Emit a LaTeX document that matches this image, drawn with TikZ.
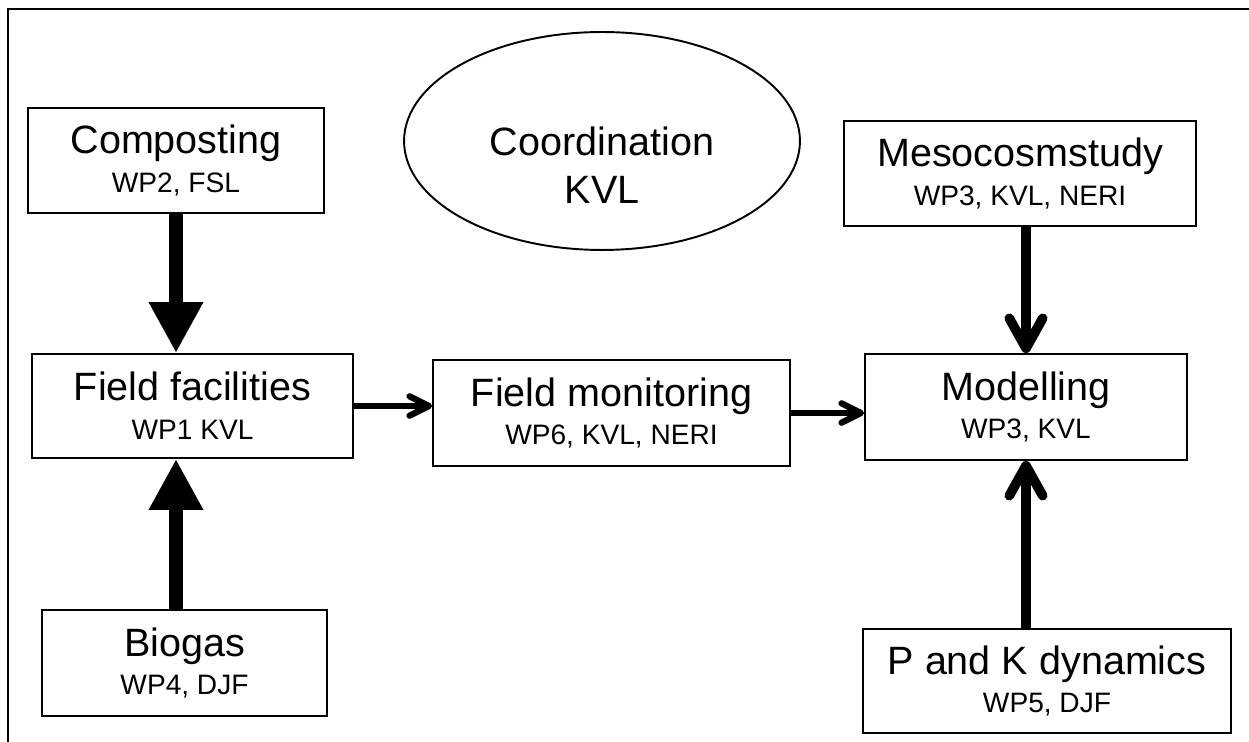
\documentclass[tikz,border=0pt]{standalone}
\usepackage{fontspec}
\setmainfont{Liberation Sans}
\usetikzlibrary{arrows.meta,shapes.geometric}

\tikzset{
  wpbox/.style={draw, line width=1.1pt, rectangle, inner sep=0pt, align=center, font=\fontsize{22.5}{22}\selectfont,
    execute at begin node={\rule{0pt}{21pt}}},
  fatarrow/.style={line width=8.5pt, -{Triangle[length=29pt,width=29pt]}},
  openarrow/.style={line width=5.5pt, -{Straight Barb[length=17pt,width=19pt,round]}},
  thinarrow/.style={line width=3.6pt, -{Straight Barb[length=11pt,width=11pt,round]}}
}
\newcommand{\wpline}[1]{{\fontsize{16}{22}\selectfont #1}}

\begin{document}
\begin{tikzpicture}[x=0.02cm,y=-0.02cm]
\useasboundingbox (0,0) rectangle (1249,742);
\draw[line width=1.1pt] (1249,9) -- (8,9) -- (8,742);

\node[wpbox, minimum width=5.92cm, minimum height=2.10cm] (comp) at (176,160.5) {Composting\\\wpline{WP2, FSL}};
\node[wpbox, minimum width=6.42cm, minimum height=2.08cm] (fac) at (192.5,406) {Field facilities\\\wpline{WP1 KVL}};
\node[wpbox, minimum width=5.70cm, minimum height=2.12cm] (bio) at (184.5,663) {Biogas\\\wpline{WP4, DJF}};
\node[wpbox, minimum width=7.14cm, minimum height=2.12cm] (mon) at (611.5,413) {Field monitoring\\\wpline{WP6, KVL, NERI}};
\node[wpbox, minimum width=6.44cm, minimum height=2.12cm] (mod) at (1026,407) {Modelling\\\wpline{WP3, KVL}};
\node[wpbox, minimum width=7.04cm, minimum height=2.10cm] (meso) at (1020,173.5) {Mesocosmstudy\\\wpline{WP3, KVL, NERI}};
\node[wpbox, minimum width=7.36cm, minimum height=2.08cm] (pk) at (1047,681) {P and K dynamics\\\wpline{WP5, DJF}};

\node[draw, ellipse, line width=1.1pt, minimum width=7.92cm, minimum height=4.36cm, inner sep=0pt] (coordination) at (602,141) {};
\node[align=center, font=\fontsize{22.5}{27}\selectfont] (coordtext) at (602,165) {Coordination\\KVL};

\draw[fatarrow] (comp.south) -- (comp.south |- fac.north);
\draw[fatarrow] (comp.south |- bio.north) -- (comp.south |- fac.south);
\draw[thinarrow] (fac.east) -- (fac.east -| mon.west);
\draw[thinarrow] (mon.east) -- (mon.east -| mod.west);
\draw[openarrow] (mod.north |- meso.south) -- (mod.north);
\draw[openarrow] (mod.south |- pk.north) -- (mod.south);
\end{tikzpicture}
\end{document}
